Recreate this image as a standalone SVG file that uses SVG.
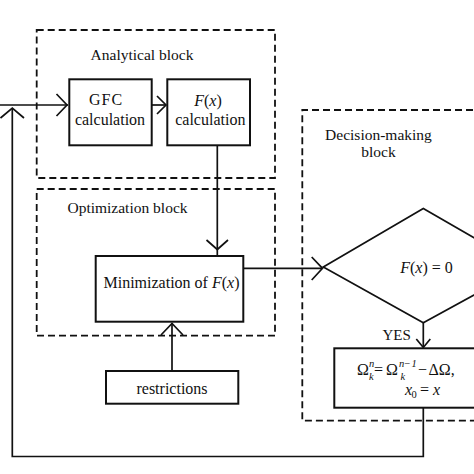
<svg xmlns="http://www.w3.org/2000/svg" width="474" height="474" viewBox="0 0 474 474">
<style>
text{font-family:"Liberation Serif","Times New Roman",serif;fill:#111}
.lbl{font-size:15.5px}
.n{font-size:16px}
.i{font-style:italic}
.s{font-size:10.5px}
.dash{fill:none;stroke:#111;stroke-width:1.8;stroke-dasharray:7 4}
.box{fill:#fff;stroke:#111;stroke-width:2}
.ln{fill:none;stroke:#111;stroke-width:1.7}
.ah{fill:none;stroke:#111;stroke-width:1.7}
</style>
<rect width="474" height="474" fill="#fff"/>
<g id="analytical-block">
<rect class="dash" x="36.7" y="30" width="238.3" height="148"/>
<text class="lbl" x="142" y="60" text-anchor="middle">Analytical block</text>
</g>
<g id="optimization-block">
<rect class="dash" x="36.7" y="189" width="238.3" height="146.7"/>
<text class="lbl" x="127.5" y="212.5" text-anchor="middle">Optimization block</text>
</g>
<g id="decision-block">
<path class="dash" d="M484,110 H302.3 V420.7 H484"/>
<text class="lbl" x="378.5" y="140" text-anchor="middle">Decision-making</text>
<text class="lbl" x="378.5" y="157" text-anchor="middle">block</text>
</g>
<g id="connectors">
<path class="ln" d="M0,105 H68"/>
<path class="ah" d="M56.5,94 L67,105 L56.5,116"/>
<path class="ln" d="M152,105 H166"/>
<path class="ah" d="M157,96 L166,105 L157,114"/>
<path class="ln" d="M217.3,145.3 V255"/>
<path class="ah" d="M206.5,240 L217.3,249.5 L228,240"/>
<path class="ln" d="M243.3,268.3 H322"/>
<path class="ah" d="M311.7,257 L322.5,268.3 L311.7,280"/>
<path class="ln" d="M172,371 V323"/>
<path class="ah" d="M161,335 L172,323.5 L183,335"/>
<path class="ln" d="M423.3,322.7 V347"/>
<path class="ah" d="M416.3,339 L423.3,347.5 L430.3,339"/>
<path class="ln" d="M423.3,407.7 V456.5 H12.3 V108.5" stroke-width="1.5"/>
<path class="ah" d="M0.5,118 L12.3,108 L24,118"/>
</g>
<g id="gfc">
<rect class="box" x="69.3" y="79.3" width="82.4" height="66"/>
<text class="n" x="106" y="104.5" text-anchor="middle" letter-spacing="1">GFC</text>
<text class="n" x="110" y="124.5" text-anchor="middle">calculation</text>
</g>
<g id="fx-calc">
<rect class="box" x="167.3" y="79.3" width="82.7" height="66"/>
<text class="n" x="208" y="106" text-anchor="middle"><tspan class="i">F</tspan>(<tspan class="i">x</tspan>)</text>
<text class="n" x="210.3" y="124.5" text-anchor="middle">calculation</text>
</g>
<g id="minimization">
<rect class="box" x="95.7" y="256" width="147.6" height="65.7"/>
<text class="n" x="171.5" y="288" text-anchor="middle">Minimization of <tspan class="i">F</tspan>(<tspan class="i">x</tspan>)</text>
</g>
<g id="restrictions">
<rect class="box" x="106" y="371" width="132.3" height="32.7"/>
<text class="n" x="172" y="393.5" text-anchor="middle">restrictions</text>
</g>
<g id="decision">
<polygon points="323.3,267 423.3,208.5 525,267 423.3,322.7" fill="#fff" stroke="#111" stroke-width="1.7"/>
<text class="n" x="426.5" y="273" text-anchor="middle"><tspan class="i">F</tspan>(<tspan class="i">x</tspan>) = 0</text>
<text style="font-size:15px" x="382.5" y="340">YES</text>
</g>
<g id="update">
<rect class="box" x="334.3" y="348.3" width="150" height="59.4"/>
<text class="n"><tspan x="357" y="374.5">Ω</tspan><tspan class="s i" x="369" y="366.5">n</tspan><tspan class="s i" x="369" y="379.5">k</tspan><tspan x="374" y="374.5">=</tspan><tspan x="386" y="374.5">Ω</tspan><tspan class="s i" x="399" y="366.5">n</tspan><tspan class="s" x="404.5" y="366.5">−</tspan><tspan class="s i" x="411.5" y="366.5">1</tspan><tspan class="s i" x="400.5" y="379.5">k</tspan><tspan x="418" y="374.5">−</tspan><tspan x="428.5" y="374.5">ΔΩ,</tspan></text>
<text class="n"><tspan class="i" x="405" y="395">x</tspan><tspan class="s" x="411.5" y="398">0</tspan><tspan x="420" y="395">=</tspan><tspan class="i" x="433" y="395">x</tspan></text>
</g>
</svg>
